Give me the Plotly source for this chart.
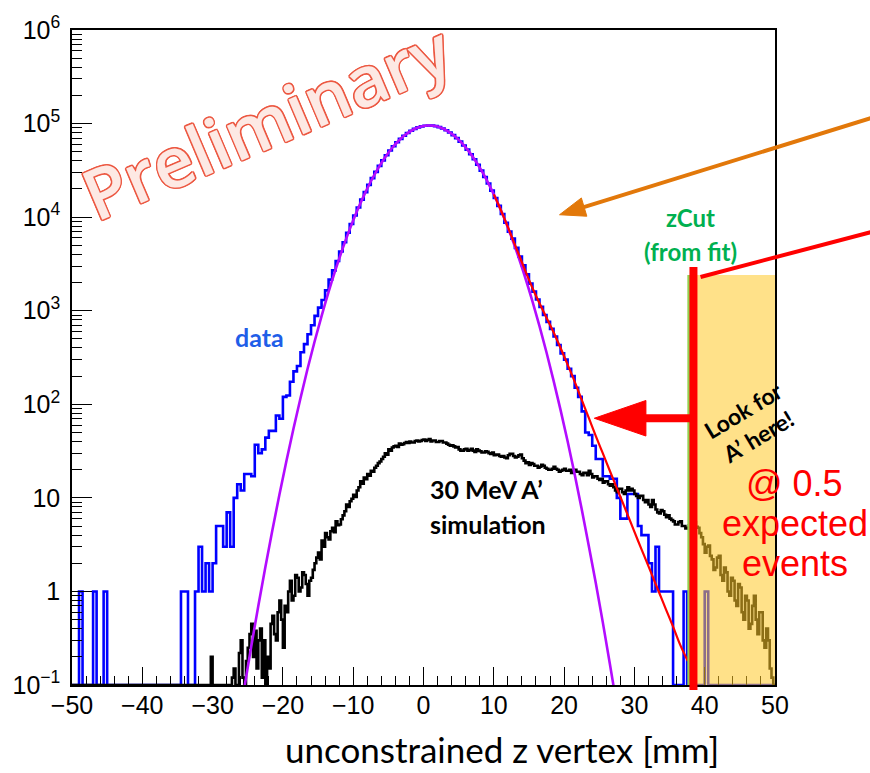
import plotly.graph_objects as go

# ---------------- binning ----------------
Z_LO, Z_HI, BIN_W = -50.0, 50.0, 0.5
N_BINS = 200
bin_edges = [Z_LO + BIN_W * i for i in range(N_BINS + 1)]

# ---------------- data: unconstrained z vertex, counts per 0.5 mm ----------------
data_counts = [
    0, 0, 1, 0, 0, 0, 1, 0, 0, 1,                                   # -50.0 .. -45.5
    0, 0, 0, 0, 0, 0, 0, 0, 0, 0,                                   # -45.0 .. -40.5
    0, 0, 0, 0, 0, 0, 0, 0, 0, 0,                                   # -40.0 .. -35.5
    0, 1, 1, 0, 0, 1, 3, 1, 2, 1,                                   # -35.0 .. -30.5
    2, 5, 5, 3, 7, 3, 10, 14, 12, 18,                               # -30.0 .. -25.5
    18, 17, 37, 30, 33, 44, 52, 52, 76, 70,                         # -25.0 .. -20.5
    120, 124, 174, 225, 257, 360, 440, 560, 700, 880,               # -20.0 .. -15.5
    1080, 1300, 1650, 2150, 2700, 3400, 4300, 5400, 6800, 8450,     # -15.0 .. -10.5
    10400, 12700, 15400, 18500, 22100, 26100, 30500, 35300, 40400, 45900,   # -10.0 .. -5.5
    51500, 57300, 63100, 68700, 74200, 79300, 83800, 87700, 91000, 93400,   # -5.0 .. -0.5
    94900, 95500, 95100, 93800, 91600, 88500, 84700, 80200, 75200, 69900,   # 0.0 .. 4.5
    64200, 58400, 52700, 47000, 41500, 36300, 31400, 26900, 22900, 19200,   # 5.0 .. 9.5
    16000, 13200, 10800, 8700, 7000, 5900, 4700, 3800, 3050, 2450,  # 10.0 .. 14.5
    1950, 1600, 1320, 1100, 900, 760, 640, 530, 430, 350,           # 15.0 .. 19.5
    300, 240, 200, 150, 120, 84, 50, 47, 36, 26,                    # 20.0 .. 24.5
    26, 17, 17, 16, 16, 10, 6, 6, 11, 11,                           # 25.0 .. 29.5
    11, 5, 4, 4, 2, 1, 3, 1, 1, 1,                                  # 30.0 .. 34.5
    1, 0, 0, 0, 1, 0, 0, 0, 0, 0,                                   # 35.0 .. 39.5
    1, 0, 0, 0, 0, 0, 0, 0, 0, 0,                                   # 40.0 .. 44.5
    0, 0, 0, 0, 0, 0, 0, 0, 0, 0,                                   # 45.0 .. 49.5
]

# ---------------- 30 MeV A' simulation, per 0.25 mm starting at -31 mm ----------------
SIM_START, SIM_BIN_W = -31.0, 0.25
sim_counts = [
    0, 0, 0, 0.2, 0, 0, 0, 0,                        # -31
    0, 0, 0, 0, 0, 0, 0, 0.12,                       # -29
    0.15, 0, 0.1, 0.22, 0.3, 0.12, 0, 0.18,          # -27
    0.25, 0.35, 0.45, 0.2, 0.38, 0.15, 0.3, 0.4,     # -25
    0.12, 0.3, 0, 0.2, 0.15, 0.45, 0.55, 0.35,       # -23
    0.3, 0.6, 0.8, 0.5, 0.25, 0.7, 0.6, 1.0,         # -21
    1.3, 0.8, 0.9, 1.5, 1.4, 1.0, 1.1, 1.6,          # -19
    1.5, 1.2, 0.9, 1.3, 1.4, 1.7, 2.0, 2.3,          # -17
    2.6, 2.2, 3.5, 3.0, 4.2, 3.8, 3.6, 4.4,          # -15
    4.8, 4.3, 5.6, 5.1, 5.2, 5.9, 6.5, 7.2,          # -13
    8.5, 8.0, 9.2, 9.8, 10.8, 10.2, 12.0, 13.0,      # -11
    15.0, 14.2, 16.5, 15.8, 18.0, 17.2, 19.5, 19.0,  # -9
    21.0, 22.0, 23.5, 24.5, 26.0, 27.5, 30.0, 29.0,  # -7
    33.0, 32.0, 34.5, 35.5, 36.0, 35.0, 38.0, 37.0,  # -5
    37.5, 38.5, 39.5, 38.5, 40.0, 39.0, 39.0, 40.5,  # -3
    41.0, 40.0, 40.5, 41.5, 42.0, 40.5, 41.5, 42.5,  # -1
    40.0, 41.0, 41.0, 39.5, 39.5, 40.5, 40.5, 39.0,  # 1
    39.0, 38.0, 37.0, 36.0, 36.5, 35.5, 34.5, 35.0,  # 3
    33.0, 32.0, 32.0, 33.0, 33.5, 32.0, 32.5, 33.5,  # 5
    32.0, 31.0, 33.0, 32.0, 31.5, 30.5, 30.5, 31.5,  # 7
    31.0, 30.0, 29.5, 30.5, 28.5, 29.0, 29.0, 28.0,  # 9
    27.5, 28.0, 27.0, 26.5, 28.5, 29.5, 29.5, 28.0,  # 11
    27.0, 27.5, 28.5, 29.0, 26.5, 25.0, 23.5, 24.0,  # 13
    22.5, 23.5, 23.0, 22.0, 22.0, 21.0, 21.5, 22.5,  # 15
    22.0, 21.0, 20.5, 20.0, 20.0, 20.5, 21.5, 20.5,  # 17
    20.0, 19.0, 19.5, 20.0, 20.5, 19.5, 19.5, 20.0,  # 19
    18.5, 19.5, 20.0, 19.0, 19.0, 18.0, 17.5, 18.5,  # 21
    18.5, 17.5, 19.5, 18.0, 16.5, 17.0, 17.0, 16.0,  # 23
    15.5, 16.0, 14.5, 15.0, 15.0, 14.0, 13.5, 14.0,  # 25
    13.0, 12.0, 11.5, 12.5, 12.5, 11.5, 11.0, 12.0,  # 27
    13.0, 12.0, 12.5, 12.0, 11.0, 10.5, 10.0, 10.5,  # 29
    10.5, 9.5, 9.0, 9.5, 8.5, 8.0, 9.5, 8.5,         # 31
    7.5, 7.0, 6.8, 7.4, 7.2, 6.6, 6.2, 6.5,          # 33
    6.0, 5.8, 5.6, 5.2, 5.2, 5.5, 5.6, 5.0,          # 35
    5.0, 4.7, 4.8, 5.1, 5.2, 5.6, 5.5, 4.9,          # 37
    4.8, 4.2, 3.8, 3.2, 2.6, 3.0, 3.1, 2.4,          # 39
    2.2, 1.7, 1.8, 2.3, 2.4, 1.5, 1.3, 1.8,          # 41
    1.6, 1.0, 0.9, 1.4, 1.3, 0.8, 0.7, 1.2,          # 43
    1.1, 0.6, 0.5, 0.9, 0.8, 0.4, 0.45, 0.7,         # 45
    0.9, 0.5, 0.35, 0.6, 0.6, 0.3, 0.25, 0.4,        # 47
    0.3, 0.15, 0.12, 0,                              # 49
]

# ---------------- Gaussian core fit (sampled) ----------------
gauss_z = [-25.5, -24.5, -23.5, -22.5, -21.5, -20.5, -19.5, -18.5, -17.5, -16.5,
           -15.5, -14.5, -13.5, -12.5, -11.5, -10.5, -9.5, -8.5, -7.5, -6.5,
           -5.5, -4.5, -3.5, -2.5, -1.5, -0.5, 0.5, 1.5, 2.5, 3.5,
           4.5, 5.5, 6.5, 7.5, 8.5, 9.5, 10.5, 11.5, 12.5, 13.5,
           14.5, 15.5, 16.5, 17.5, 18.5, 19.5, 20.5, 21.5, 22.5, 23.5,
           24.5, 25.5, 26.5, 27.5]
gauss_val = [0.092, 0.26, 0.70, 1.81, 4.5, 10.8, 24.8, 54.8, 116, 238,
             466, 877, 1589, 2761, 4613, 7396, 11400, 16870, 24040, 32810,
             43150, 54450, 65920, 76740, 85900, 92300, 95300, 94600, 90150, 82550,
             72600, 61380, 49800, 38820, 29110, 20950, 14490, 9640, 6150, 3776,
             2223, 1259, 685, 358, 179, 86.6, 40.2, 17.9, 7.6, 3.1,
             1.24, 0.47, 0.17, 0.06]

# ---------------- Gaussian + exponential tail fit (sampled) ----------------
tail_z = [10.0, 10.5, 11.5, 12.5, 13.5, 14.5, 15.5, 16.5, 17.5, 18.5,
          19.5, 20.5, 21.5, 22.5, 23.5, 24.5, 25.5, 26.5, 27.5, 28.5,
          29.5, 30.5, 31.5, 32.5, 33.5, 34.5, 35.5, 36.5, 37.6]
tail_val = [17500, 14500, 9700, 6300, 4100, 2650, 1750, 1200, 840, 590,
            400, 265, 175, 112, 72, 46, 30, 19.5, 12.7, 8.3,
            5.4, 3.5, 2.3, 1.5, 0.98, 0.64, 0.42, 0.27, 0.18]

Z_CUT = 37.6          # zCut from the fit
Y_FLOOR = 0.1         # empty bins are drawn on the frame floor (log scale)

# ---------------- frame geometry (pixels) ----------------
W, H = 870, 773
ML, MR, MT, MB = 67, 95, 22, 88
PW, PH = W - ML - MR, H - MT - MB


def px(x):
    return (x - ML) / PW


def py(y):
    return (H - MB - y) / PH


def stairs(edges, counts):
    ys = [c if c > 0 else Y_FLOOR for c in counts]
    return list(edges), ys + [ys[-1]]


fig = go.Figure()

xs, ys = stairs(bin_edges, data_counts)
fig.add_trace(go.Scatter(x=xs, y=ys, mode="lines", line=dict(color="#0000ff", width=2.6, shape="hv"),
                         hoverinfo="skip"))
sim_edges = [Z_LO] + [SIM_START + SIM_BIN_W * i for i in range(len(sim_counts) + 1)]
xs, ys = stairs(sim_edges, [0] + sim_counts)
fig.add_trace(go.Scatter(x=xs, y=ys, mode="lines", line=dict(color="#000000", width=2.6, shape="hv"),
                         hoverinfo="skip"))
fig.add_trace(go.Scatter(x=gauss_z, y=gauss_val, mode="lines",
                         line=dict(color="#b30cff", width=2.6, shape="spline", smoothing=1.0),
                         hoverinfo="skip"))
fig.add_trace(go.Scatter(x=tail_z, y=tail_val, mode="lines",
                         line=dict(color="#ff0000", width=2.2, shape="spline", smoothing=1.0),
                         hoverinfo="skip"))

# ---------------- signal region & annotation graphics ----------------
shapes = []
shapes.append(dict(type="rect", xref="x", yref="paper", x0=Z_CUT, x1=Z_HI, y0=0, y1=py(270),
                   fillcolor="rgba(255,200,40,0.55)", line=dict(width=0), layer="above"))
shapes.append(dict(type="line", xref="x", yref="paper", x0=Z_CUT + 0.15, x1=Z_CUT + 0.15, y0=0, y1=py(270),
                   line=dict(color="#92D050", width=3), layer="above"))
shapes.append(dict(type="line", xref="x", yref="paper", x0=Z_CUT + 0.8, x1=Z_CUT + 0.8, y0=py(690), y1=py(262),
                   line=dict(color="#ff0000", width=8), layer="above"))
# red pointer line running off to the right
shapes.append(dict(type="line", xref="paper", yref="paper", x0=px(700), y0=py(272), x1=px(885), y1=py(223),
                   line=dict(color="#ff0000", width=4), layer="above"))
# orange arrow
shapes.append(dict(type="line", xref="paper", yref="paper", x0=px(885), y0=py(107), x1=px(580), y1=py(202),
                   line=dict(color="#E2780A", width=4), layer="above"))


def tri(p1, p2, p3):
    return "M {:.5f},{:.5f} L {:.5f},{:.5f} L {:.5f},{:.5f} Z".format(
        px(p1[0]), py(p1[1]), px(p2[0]), py(p2[1]), px(p3[0]), py(p3[1]))


shapes.append(dict(type="path", xref="paper", yref="paper", path=tri((558, 209), (585.5, 210.5), (580, 192)),
                   fillcolor="#E2780A", line=dict(color="#E2780A", width=1), layer="above"))
# red "look for" arrow
shapes.append(dict(type="rect", xref="paper", yref="paper", x0=px(640), x1=px(691), y0=py(419), y1=py(411),
                   fillcolor="#ff0000", line=dict(width=0), layer="above"))
shapes.append(dict(type="path", xref="paper", yref="paper", path=tri((593, 415), (645, 397), (645, 433)),
                   fillcolor="#ff0000", line=dict(color="#ff0000", width=1), layer="above"))

CAL = "Lato, Carlito, Calibri, sans-serif"
HELV = "Liberation Sans, Arial, Helvetica, sans-serif"
ann = []


def label(text, x, y, size, color, family=CAL, bold=True, angle=0, **kw):
    ann.append(dict(text=text, x=px(x), y=py(y), xref="paper", yref="paper", showarrow=False,
                    xanchor="center", yanchor="middle", textangle=angle,
                    font=dict(family=family, size=size, color=color, weight=700 if bold else 400, **kw)))


outline = ", ".join("{}px {}px 0 #EC5842".format(a, b) for a, b in
                    [(1.5, 0), (-1.5, 0), (0, 1.5), (0, -1.5), (1.1, 1.1), (-1.1, 1.1), (1.1, -1.1), (-1.1, -1.1)])
ann.append(dict(text="Preliminary", x=px(262), y=py(114), xref="paper", yref="paper", showarrow=False,
                xanchor="center", yanchor="middle", textangle=-23,
                font=dict(family="Open Sans", size=70, color="#FDE9E4", weight=600, shadow=outline)))

label("data", 256, 333, 25, "#1f5ee8")
label("30 MeV A’", 484, 487, 25, "#000000")
label("simulation", 486, 522, 25, "#000000")
label("zCut", 690, 212, 24, "#00B050")
label("(from fit)", 690, 246, 24, "#00B050")
label("Look for<br>A’ here!", 751, 420, 23, "#000000", angle=-31)
label("@ 0.5", 795, 481, 36, "#ff0000", family=HELV, bold=False)
label("expected", 795, 522, 36, "#ff0000", family=HELV, bold=False)
label("events", 795, 562, 36, "#ff0000", family=HELV, bold=False)
label("unconstrained z vertex [mm]", 500, 750, 35, "#000000", bold=False)

y_major = [0.1, 1, 10, 100, 1e3, 1e4, 1e5, 1e6]
y_major_text = ["10<sup>−1</sup>", "1", "10", "10<sup>2</sup>", "10<sup>3</sup>",
                "10<sup>4</sup>", "10<sup>5</sup>", "10<sup>6</sup>"]
y_minor = [m * d for d in [0.1, 1, 10, 100, 1e3, 1e4, 1e5] for m in range(2, 10)]

fig.update_layout(
    width=W, height=H,
    margin=dict(l=ML, r=MR, t=MT, b=MB),
    paper_bgcolor="white", plot_bgcolor="white",
    showlegend=False,
    shapes=shapes, annotations=ann,
    xaxis=dict(range=[Z_LO, Z_HI], tickmode="linear", tick0=-50, dtick=10,
               ticks="inside", ticklen=18, tickwidth=1.2, tickcolor="black",
               minor=dict(dtick=2, ticks="inside", ticklen=9, tickwidth=1.2, tickcolor="black"),
               showline=True, linecolor="black", linewidth=1.5, mirror=True,
               showgrid=False, zeroline=False,
               tickfont=dict(family=HELV, size=25, color="black"), ticklabelstandoff=-3),
    yaxis=dict(type="log", range=[-1, 6], tickmode="array", tickvals=y_major, ticktext=y_major_text,
               ticks="inside", ticklen=20, tickwidth=1.2, tickcolor="black",
               minor=dict(tickmode="array", tickvals=y_minor, ticks="inside", ticklen=10,
                          tickwidth=1.2, tickcolor="black"),
               showline=True, linecolor="black", linewidth=1.5, mirror=True,
               showgrid=False, zeroline=False,
               tickfont=dict(family=HELV, size=25, color="black"), ticklabelstandoff=5),
)

fig.write_html("out.html")
